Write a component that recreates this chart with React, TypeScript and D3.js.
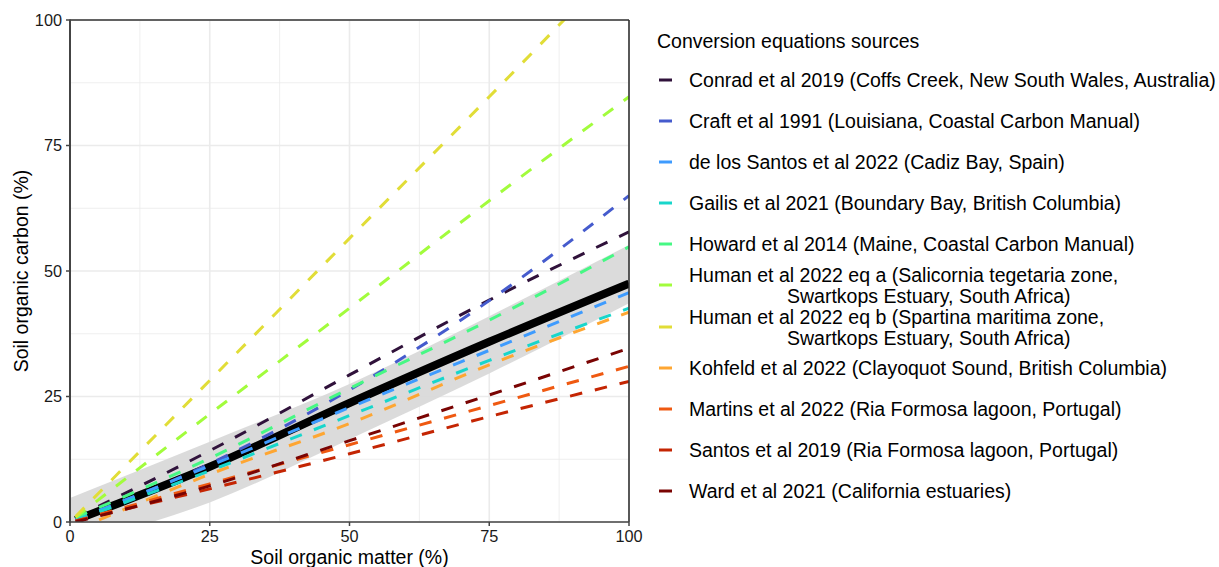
import React from "react";
import * as d3 from "d3";

const W = 1219;
const H = 567;
const M = { left: 70, right: 629, top: 20, bottom: 522 };

// LOI values at which each equation was read
const loiPoints = [1, 25, 50, 75, 100];

const sourceNames = [
  "Conrad et al 2019 (Coffs Creek, New South Wales, Australia)",
  "Craft et al 1991 (Louisiana, Coastal Carbon Manual)",
  "de los Santos et al 2022 (Cadiz Bay, Spain)",
  "Gailis et al 2021 (Boundary Bay, British Columbia)",
  "Howard et al 2014 (Maine, Coastal Carbon Manual)",
  "Human et al 2022 eq a (Salicornia tegetaria zone,|Swartkops Estuary, South Africa)",
  "Human et al 2022 eq b (Spartina maritima zone,|Swartkops Estuary, South Africa)",
  "Kohfeld et al 2022 (Clayoquot Sound, British Columbia)",
  "Martins et al 2022 (Ria Formosa lagoon, Portugal)",
  "Santos et al 2019 (Ria Formosa lagoon, Portugal)",
  "Ward et al 2021 (California estuaries)",
];

const sourceColors = [
  "#30123B", "#455BCD", "#3E9BFE", "#18D6CB", "#46F884", "#A2FC3C",
  "#E1DD37", "#FEA632", "#EF5911", "#C42503", "#7A0403",
];

const conrad = [0.9, 14.2, 29.3, 44.2, 57.8];
const craft = [0.4, 11.6, 26.3, 44.1, 65.0];
const deLosSantos = [0.4, 11.2, 22.8, 34.2, 45.7];
const gailis = [0.3, 10.2, 21.2, 32.2, 42.6];
const howard = [0.9, 12.7, 26.6, 40.2, 54.8];
const humanA = [0.9, 21.5, 42.6, 64.0, 84.7];
const humanB = [1.1, 28.2, 56.5, 84.7, 113.4];
const kohfeld = [-1.6, 9.5, 19.6, 31.3, 41.8];
const martins = [0.2, 7.6, 15.4, 23.2, 31.0];
const santos = [0.2, 6.6, 13.6, 21.0, 28.0];
const ward = [0.0, 7.2, 16.2, 25.3, 34.6];

const seriesValues = [conrad, craft, deLosSantos, gailis, howard, humanA, humanB, kohfeld, martins, santos, ward];

// overall fit and its interval
const fitLoi = [1, 25, 50, 75, 100];
const fitValues = [0.4, 11.0, 23.7, 35.9, 47.5];
const bandLoi = [0, 25, 50, 75, 100];
const bandLower = [-4.6, 3.9, 16.5, 29.6, 43.6];
const bandUpper = [4.8, 16.0, 27.5, 41.0, 55.2];

const majorTicks = [0, 25, 50, 75, 100];
const minorTicks = [12.5, 37.5, 62.5, 87.5];

const FONT = "'Liberation Sans', Arial, Helvetica, sans-serif";
const TITLE_SIZE = 19.5;
const TICK_SIZE = 16.3;

export default function App() {
  const x = d3.scaleLinear().domain([0, 100]).range([M.left, M.right]);
  const y = d3.scaleLinear().domain([0, 100]).range([M.bottom, M.top]);

  const line = d3
    .line<[number, number]>()
    .x((d) => x(d[0]))
    .y((d) => y(d[1]))
    .curve(d3.curveMonotoneX);

  const area = d3
    .area<number>()
    .x((_, i) => x(bandLoi[i]))
    .y0((_, i) => y(bandLower[i]))
    .y1((_, i) => y(bandUpper[i]))
    .curve(d3.curveMonotoneX);

  const legendX = 657;
  const rowY = [80, 121, 162, 203, 244, 285, 327, 368, 409, 450, 491];

  return (
    <svg
      width={W}
      height={H}
      style={{ position: "absolute", left: 0, top: 0, background: "#fff" }}
      fontFamily={FONT}
    >
      <defs>
        <clipPath id="plotClip">
          <rect x={M.left} y={M.top} width={M.right - M.left} height={M.bottom - M.top} />
        </clipPath>
      </defs>

      {/* grid */}
      {minorTicks.map((t) => (
        <g key={"mn" + t}>
          <line x1={x(t)} x2={x(t)} y1={M.top} y2={M.bottom} stroke="#ebebeb" strokeWidth={0.8} />
          <line x1={M.left} x2={M.right} y1={y(t)} y2={y(t)} stroke="#ebebeb" strokeWidth={0.8} />
        </g>
      ))}
      {majorTicks.map((t) => (
        <g key={"mj" + t}>
          <line x1={x(t)} x2={x(t)} y1={M.top} y2={M.bottom} stroke="#ebebeb" strokeWidth={1.6} />
          <line x1={M.left} x2={M.right} y1={y(t)} y2={y(t)} stroke="#ebebeb" strokeWidth={1.6} />
        </g>
      ))}

      <g clipPath="url(#plotClip)">
        <path d={area(bandLower) || ""} fill="#d9d9d9" fillOpacity={0.95} />
        <path
          d={line(fitLoi.map((l, i) => [l, fitValues[i]] as [number, number])) || ""}
          fill="none"
          stroke="#000"
          strokeWidth={8}
        />
        {seriesValues.map((vals, si) => (
          <path
            key={si}
            d={line(loiPoints.map((l, i) => [l, vals[i]] as [number, number])) || ""}
            fill="none"
            stroke={sourceColors[si]}
            strokeWidth={3}
            strokeDasharray="12.5,13"
          />
        ))}
      </g>

      {/* panel border */}
      <line x1={M.left} x2={M.right} y1={M.top} y2={M.top} stroke="#333" strokeWidth={1.3} />
      <line x1={M.right} x2={M.right} y1={M.top} y2={M.bottom} stroke="#333" strokeWidth={1.6} />
      <line x1={M.left} x2={M.left} y1={M.top - 0.6} y2={M.bottom + 1} stroke="#444" strokeWidth={2} />
      <line x1={M.left - 1} x2={M.right} y1={M.bottom} y2={M.bottom} stroke="#444" strokeWidth={1.6} />

      {/* y axis */}
      {majorTicks.map((t) => (
        <g key={"yt" + t}>
          <line x1={M.left - 4} x2={M.left} y1={y(t)} y2={y(t)} stroke="#444" strokeWidth={1.5} />
          <text x={M.left - 8} y={y(t)} dy="0.35em" textAnchor="end" fontSize={TICK_SIZE} fill="#1a1a1a">
            {t}
          </text>
        </g>
      ))}
      {/* x axis */}
      {majorTicks.map((t) => (
        <g key={"xt" + t}>
          <line x1={x(t)} x2={x(t)} y1={M.bottom} y2={M.bottom + 4} stroke="#444" strokeWidth={1.5} />
          <text x={x(t)} y={M.bottom + 14} dy="0.35em" textAnchor="middle" fontSize={TICK_SIZE} fill="#1a1a1a">
            {t}
          </text>
        </g>
      ))}

      <text x={(M.left + M.right) / 2} y={557} dy="0.35em" textAnchor="middle" fontSize={TITLE_SIZE} fill="#000">
        Soil organic matter (%)
      </text>
      <text
        transform={`translate(21,${(M.top + M.bottom) / 2}) rotate(-90)`}
        dy="0.35em"
        textAnchor="middle"
        fontSize={TITLE_SIZE}
        fill="#000"
      >
        Soil organic carbon (%)
      </text>

      {/* legend */}
      <text x={legendX} y={41} dy="0.35em" fontSize={TITLE_SIZE} fill="#000">
        Conversion equations sources
      </text>
      {sourceNames.map((name, i) => {
        const parts = name.split("|");
        const cy = rowY[i];
        return (
          <g key={"lg" + i}>
            <line x1={659} x2={672} y1={cy} y2={cy} stroke={sourceColors[i]} strokeWidth={3} />
            {parts.length === 1 ? (
              <text x={689} y={cy} dy="0.35em" fontSize={TITLE_SIZE} fill="#000">
                {parts[0]}
              </text>
            ) : (
              <>
                <text x={689} y={cy - 10} dy="0.35em" fontSize={TITLE_SIZE} fill="#000">
                  {parts[0]}
                </text>
                <text x={787} y={cy + 11} dy="0.35em" fontSize={TITLE_SIZE} fill="#000">
                  {parts[1]}
                </text>
              </>
            )}
          </g>
        );
      })}
    </svg>
  );
}
